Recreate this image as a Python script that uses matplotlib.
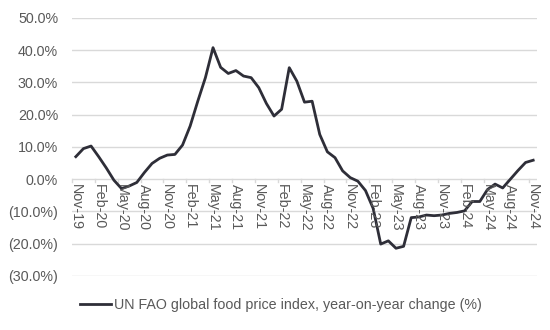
import matplotlib
matplotlib.use("Agg")
import matplotlib.pyplot as plt
from matplotlib.ticker import FuncFormatter

# Monthly year-on-year change, Nov-19 .. Nov-24
months = [
    "Nov-19", "Dec-19", "Jan-20", "Feb-20", "Mar-20", "Apr-20", "May-20", "Jun-20",
    "Jul-20", "Aug-20", "Sep-20", "Oct-20", "Nov-20", "Dec-20", "Jan-21", "Feb-21",
    "Mar-21", "Apr-21", "May-21", "Jun-21", "Jul-21", "Aug-21", "Sep-21", "Oct-21",
    "Nov-21", "Dec-21", "Jan-22", "Feb-22", "Mar-22", "Apr-22", "May-22", "Jun-22",
    "Jul-22", "Aug-22", "Sep-22", "Oct-22", "Nov-22", "Dec-22", "Jan-23", "Feb-23",
    "Mar-23", "Apr-23", "May-23", "Jun-23", "Jul-23", "Aug-23", "Sep-23", "Oct-23",
    "Nov-23", "Dec-23", "Jan-24", "Feb-24", "Mar-24", "Apr-24", "May-24", "Jun-24",
    "Jul-24", "Aug-24", "Sep-24", "Oct-24", "Nov-24",
]
yoy_change = [
    7.0, 9.5, 10.3, 7.0, 3.5, -0.3, -2.9, -2.1, -1.0, 2.1, 4.9, 6.5,
    7.5, 7.7, 10.6, 16.5, 24.2, 31.5, 40.8, 34.7, 32.8, 33.7, 32.0, 31.5,
    28.4, 23.5, 19.6, 21.7, 34.6, 30.4, 23.9, 24.2, 13.9, 8.5, 6.7, 2.6,
    0.5, -0.6, -3.5, -9.0, -20.1, -19.1, -21.4, -20.8, -11.9, -11.7, -11.1, -11.3,
    -11.1, -10.6, -10.3, -9.8, -6.9, -6.9, -3.2, -1.5, -2.7, 0.0, 2.7, 5.2, 5.9,
]
y_ticks = [50, 40, 30, 20, 10, 0, -10, -20, -30]
series_label = "UN FAO global food price index, year-on-year change (%)"

text_color = "#595959"
grid_color = "#d9d9d9"
line_color = "#2e2e38"

plt.rcParams["font.family"] = ["Liberation Sans", "DejaVu Sans"]
plt.rcParams["font.size"] = 10.3

fig = plt.figure(figsize=(5.5, 3.3), dpi=100)
ax = fig.add_axes([72 / 550, 1 - 276 / 330, 465 / 550, 258 / 330])

x = list(range(len(months)))
ax.plot(x, yoy_change, color=line_color, linewidth=2.0, label=series_label,
        solid_joinstyle="round", zorder=3)

ax.set_xlim(-0.5, len(months) - 0.5)
ax.set_ylim(min(y_ticks), max(y_ticks))

# horizontal gridlines, including the zero line
for v in y_ticks:
    ax.axhline(v, color=grid_color, linewidth=1.0, zorder=1)

ax.set_yticks(y_ticks)
ax.yaxis.set_major_formatter(FuncFormatter(
    lambda v, _: f"{v:.1f}%" if v >= 0 else f"({abs(v):.1f}%)"))
ax.tick_params(axis="y", length=0, pad=10, colors=text_color, labelsize=10.3)

# category ticks sit between months; labels every third month under the zero line
ax.set_xticks([])
for i in range(0, len(months), 3):
    ax.plot([i - 0.5, i - 0.5], [0, -1.0], color=grid_color, linewidth=1.0,
            zorder=1, clip_on=False)
    ax.text(i, -1.5, months[i], rotation=270, ha="center", va="top",
            color=text_color, fontsize=10.3)

for s in ax.spines.values():
    s.set_visible(False)

leg = fig.legend(loc="lower left", bbox_to_anchor=(74 / 550, 1 - 318 / 330),
                 frameon=False, handlelength=2.2, handletextpad=0.2,
                 borderaxespad=0, fontsize=10.3)
for t in leg.get_texts():
    t.set_color(text_color)

fig.savefig("out.png", dpi=100)
